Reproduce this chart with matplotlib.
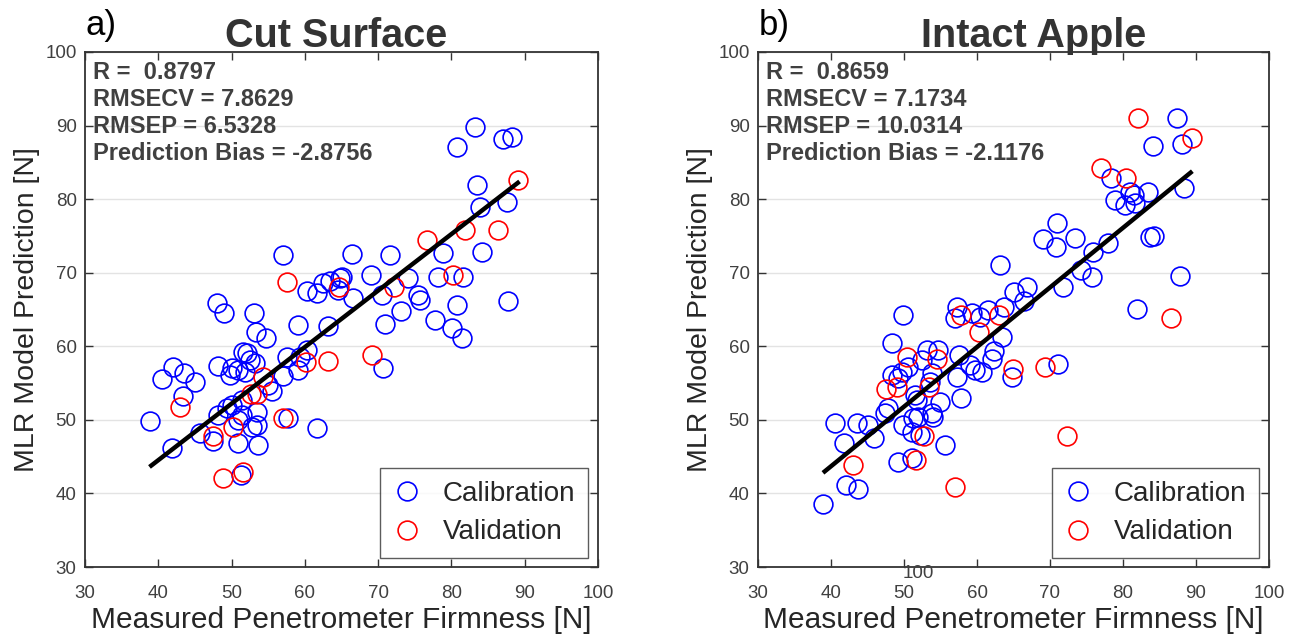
import matplotlib
matplotlib.use("Agg")
import matplotlib.pyplot as plt

plt.rcParams['font.family'] = ['Liberation Sans', 'DejaVu Sans']

# ---------------- data: panel a (Cut Surface) ----------------
cal_a_x = [57.0, 66.5, 60.3, 61.6, 62.5, 63.4, 65.1, 64.5, 66.6,
           83.2, 80.8, 87.0, 88.3, 83.5, 83.9, 87.6, 78.8, 84.2, 71.6, 69.0,
           81.6, 78.2, 74.1, 64.8, 70.5, 75.4, 75.7, 80.8, 87.7, 73.1, 70.9,
           77.7, 80.1, 81.4, 70.7, 63.1,
           48.0, 49.0, 53.1, 53.3, 54.7, 59.1, 60.3, 59.3, 59.1, 57.6, 57.0,
           51.6, 52.1, 52.5, 53.2, 51.8, 50.9, 50.1, 49.8, 48.1, 55.0, 55.5,
           51.4, 50.1, 49.4, 48.1, 51.4, 53.5, 53.5, 52.8, 50.9, 57.7, 61.6,
           50.9, 53.6, 47.5, 45.7, 41.9, 38.9, 43.4, 45.0, 43.5, 42.0, 40.5,
           51.3]
cal_a_y = [72.4, 72.6, 67.5, 67.2, 68.6, 68.9, 69.4, 67.6, 66.6,
           89.8, 87.1, 88.2, 88.4, 81.9, 78.9, 79.6, 72.7, 72.8, 72.4, 69.7,
           69.4, 69.4, 69.3, 69.3, 67.0, 67.0, 66.3, 65.6, 66.2, 64.8, 63.0,
           63.6, 62.5, 61.1, 57.0, 62.8,
           65.9, 64.5, 64.5, 61.9, 61.1, 62.9, 59.5, 58.5, 56.8, 58.5, 56.0,
           59.2, 59.1, 58.1, 57.7, 56.5, 56.8, 57.0, 56.1, 57.3, 54.7, 53.9,
           52.7, 52.0, 51.6, 50.7, 50.7, 51.1, 49.3, 49.0, 50.0, 50.2, 48.9,
           46.8, 46.6, 47.1, 48.2, 46.2, 49.8, 53.2, 55.1, 56.4, 57.2, 55.5,
           42.5]
val_a_x = [57.6, 64.6, 89.1, 81.8, 86.3, 76.7, 80.2, 72.2, 69.2, 63.2,
           60.1, 54.3, 52.6, 53.5, 50.2, 57.0, 47.5, 43.0, 48.8, 51.6]
val_a_y = [68.8, 68.0, 82.6, 75.8, 75.8, 74.5, 69.7, 68.0, 58.8, 58.0,
           57.9, 55.8, 53.5, 53.5, 49.0, 50.2, 47.8, 51.7, 42.1, 42.9]
fit_a_x = [38.8, 89.3]
fit_a_y = [43.6, 82.4]
stats_a = ["R =  0.8797", "RMSECV = 7.8629", "RMSEP = 6.5328",
           "Prediction Bias = -2.8756"]

# ---------------- data: panel b (Intact Apple) ----------------
cal_b_x = [63.2, 65.0, 87.4, 84.1, 88.1, 78.4, 88.4, 83.4, 81.0, 78.9,
           80.3, 81.6, 81.5, 71.0, 69.0, 70.8, 73.4, 77.9, 75.9, 83.7, 84.2,
           74.2, 75.8, 87.8, 71.8, 66.8, 63.7, 66.5, 81.9, 63.4, 62.3, 62.0,
           64.8, 71.1,
           49.9, 57.3, 57.0, 59.3, 60.4, 61.5, 60.7, 59.7, 59.0, 57.5, 57.3,
           57.8, 53.2, 54.7, 52.5, 50.5, 49.7, 48.4, 48.4, 49.2, 53.8, 53.6,
           51.5, 51.8, 54.9, 53.8, 54.0, 51.9, 51.2, 47.8, 47.4, 49.9, 51.1,
           52.2, 55.6, 49.2, 51.1, 40.5, 43.6, 45.1, 45.9, 41.8, 42.1, 43.7,
           38.9]
cal_b_y = [71.0, 67.4, 91.0, 87.2, 87.5, 82.9, 81.5, 81.0, 81.0, 79.9,
           79.2, 79.5, 80.5, 76.7, 74.6, 73.5, 74.7, 74.0, 72.8, 74.8, 75.0,
           70.4, 69.4, 69.5, 68.0, 68.0, 65.3, 66.1, 65.1, 61.3, 59.3, 58.3,
           55.8, 57.6,
           64.2, 65.3, 63.8, 64.5, 64.0, 64.9, 56.5, 56.8, 57.4, 58.8, 55.8,
           53.0, 59.5, 59.5, 58.1, 57.2, 56.5, 60.4, 56.1, 55.7, 56.4, 55.1,
           53.4, 52.7, 52.4, 50.9, 50.4, 50.4, 50.2, 51.6, 50.9, 49.3, 48.3,
           47.9, 46.6, 44.3, 44.8, 49.6, 49.6, 49.3, 47.5, 46.8, 41.1, 40.6,
           38.6]
val_b_x = [82.1, 89.5, 77.0, 80.4, 86.6, 63.0, 64.9, 69.3, 72.3, 57.8,
           60.3, 54.5, 50.4, 49.0, 47.5, 53.4, 52.7, 51.6, 57.0, 43.0]
val_b_y = [91.0, 88.3, 84.3, 82.9, 63.8, 64.3, 56.9, 57.2, 47.8, 64.2,
           61.9, 58.3, 58.5, 54.5, 54.2, 54.5, 47.8, 44.5, 40.9, 43.9]
fit_b_x = [38.9, 89.5]
fit_b_y = [42.8, 83.8]
stats_b = ["R =  0.8659", "RMSECV = 7.1734", "RMSEP = 10.0314",
           "Prediction Bias = -2.1176"]

ticks = [30, 40, 50, 60, 70, 80, 90, 100]

W, H = 1296, 638
fig = plt.figure(figsize=(W / 100, H / 100), dpi=100)

TXT = '#404040'
SPINE = '#333333'


def make_panel(left_px, width_px, cx, cy, vx, vy, fx, fy, stats, title,
               title_x, letter):
    ax = fig.add_axes([left_px / W, (H - 567) / H, width_px / W, 515 / H])
    ax.set_xlim(30, 100)
    ax.set_ylim(30, 100)
    ax.set_xticks(ticks)
    ax.set_yticks(ticks)
    ax.yaxis.grid(True, color='#e3e3e3', linewidth=1.0)
    ax.set_axisbelow(True)
    for s in ax.spines.values():
        s.set_color(SPINE)
        s.set_linewidth(1.3)
    ax.tick_params(direction='in', top=True, right=True, length=6,
                   width=1.0, color=SPINE, labelsize=13.5, labelcolor=TXT)
    ax.tick_params(axis='x', pad=13)
    ax.tick_params(axis='y', pad=6)
    ax.plot(cx, cy, 'o', mfc='none', mec=(0, 0, 1), ms=13.5, mew=1.2,
            linestyle='none', label='Calibration')
    ax.plot(vx, vy, 'o', mfc='none', mec=(1, 0, 0), ms=13.5, mew=1.2,
            linestyle='none', label='Validation')
    ax.plot(fx, fy, '-', color='black', linewidth=3.2, solid_capstyle='butt')
    ax.text(0.015, 0.982, "\n".join(stats), transform=ax.transAxes,
            ha='left', va='top', fontsize=17, fontweight='bold', color=TXT,
            linespacing=1.22)
    leg = ax.legend(loc='lower right', bbox_to_anchor=(0.9805, 0.0175),
                    borderaxespad=0, fontsize=20, frameon=True,
                    fancybox=False, edgecolor=SPINE, handletextpad=0.8,
                    borderpad=0.45, labelspacing=0.45, handlelength=1.0)
    leg.get_frame().set_linewidth(1.0)
    for t in leg.get_texts():
        t.set_color('#262626')
    ax.set_xlabel("Measured Penetrometer Firmness [N]", fontsize=21.5,
                  color='#262626', labelpad=3)
    ax.set_ylabel("MLR Model Prediction [N]", fontsize=20.5,
                  color='#262626', labelpad=4)
    ax.text(title_x, 1.0 + 5 / 515, title, transform=ax.transAxes,
            ha='center', va='baseline', fontsize=28.5, fontweight='bold',
            color='#333333')
    fig.text((left_px + 16) / W, 1 - 25 / H, letter, fontsize=25,
             color='black', ha='center', va='center')
    return ax


make_panel(85, 513, cal_a_x, cal_a_y, val_a_x, val_a_y, fit_a_x, fit_a_y,
           stats_a, "Cut Surface", 0.49, "a)")
axb = make_panel(758, 511, cal_b_x, cal_b_y, val_b_x, val_b_y, fit_b_x,
                 fit_b_y, stats_b, "Intact Apple", 0.54, "b)")
fig.text(918 / W, 1 - 574 / H, "100", fontsize=13.5, color=TXT,
         ha='center', va='center')

fig.savefig("out.png", dpi=100)
